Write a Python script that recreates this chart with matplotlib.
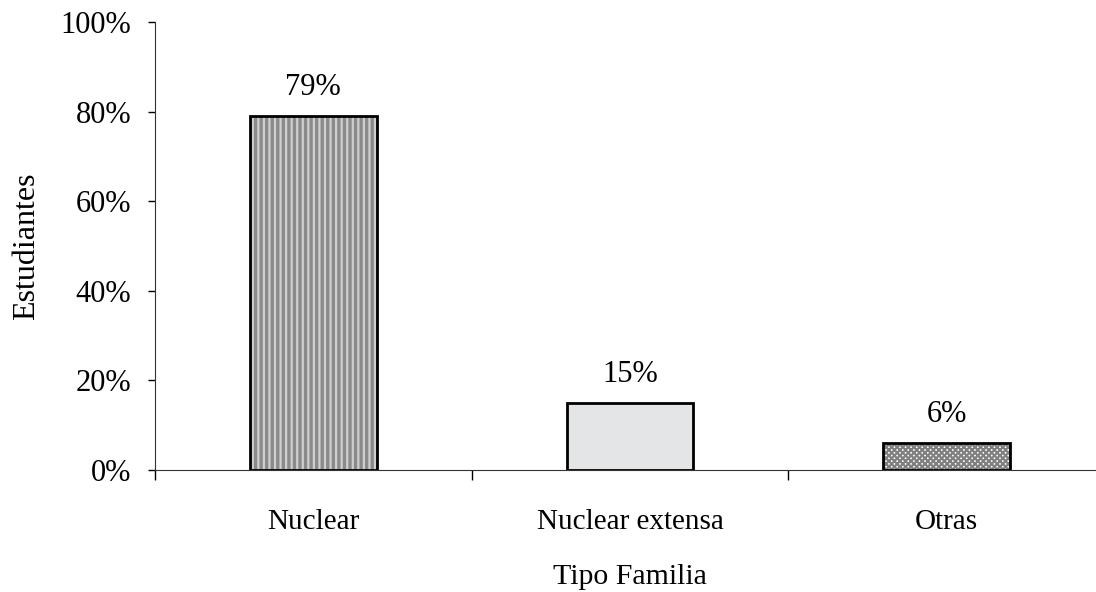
import matplotlib.pyplot as plt
import matplotlib.ticker as mticker

# data
categories = ["Nuclear", "Nuclear extensa", "Otras"]
values = [79, 15, 6]
labels = ["79%", "15%", "6%"]

plt.rcParams["font.family"] = ["Liberation Serif", "DejaVu Serif"]
plt.rcParams["hatch.linewidth"] = 1.6

fig = plt.figure(figsize=(10.96, 5.92), dpi=100)
ax = fig.add_axes([155 / 1096, 1 - 470 / 592, 950 / 1096, 448 / 592])

x = list(range(len(categories)))
fills = ["#8a8a8a", "#e4e5e7", "#ffffff"]
hatches = ["|||", None, "xxxxxx"]
hcolors = ["#cfcfcf", "#e4e5e7", "#808080"]
for i in x:
    ax.bar(i, values[i], width=0.4, color=fills[i], hatch=hatches[i],
           edgecolor=hcolors[i], linewidth=0, zorder=2)
ax.bar(x, values, width=0.4, facecolor="none", edgecolor="black",
       linewidth=2, zorder=3)

for i in x:
    ax.annotate(labels[i], (i, values[i]), xytext=(0, 10),
                textcoords="offset points", ha="center", va="bottom",
                fontsize=22)

ax.set_xlim(-0.5, 2.5)
ax.set_ylim(0, 100)
ax.set_yticks([0, 20, 40, 60, 80, 100])
ax.yaxis.set_major_formatter(mticker.FuncFormatter(lambda v, p: f"{v:.0f}%"))
ax.set_xticks([-0.5, 0.5, 1.5, 2.5])
ax.set_xticklabels([])
ax.set_xticks(x, minor=True)
ax.set_xticklabels(categories, minor=True)
ax.tick_params(axis="x", which="major", length=7, width=1, direction="out")
ax.tick_params(axis="x", which="minor", length=0, pad=28, labelsize=21)
ax.tick_params(axis="y", length=5, width=1, direction="out", pad=12,
               labelsize=22)

for s in ["top", "right"]:
    ax.spines[s].set_visible(False)
ax.spines["left"].set_color("#333333")
ax.spines["bottom"].set_color("#333333")

ax.set_xlabel("Tipo Familia", fontsize=21.5, labelpad=21)
ax.set_ylabel("Estudiantes", fontsize=23, labelpad=14)

plt.savefig("out.png", dpi=100)
